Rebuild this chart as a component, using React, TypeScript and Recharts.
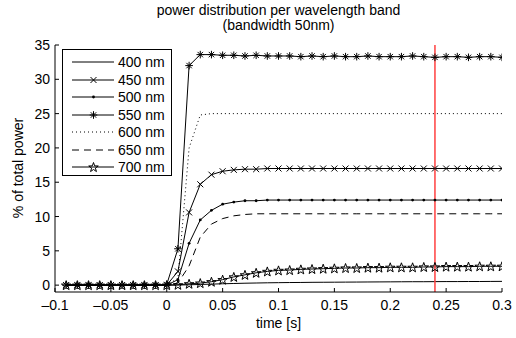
import React from 'react';
import { LineChart, Line, XAxis, YAxis, ReferenceLine } from 'recharts';

const FONT = '"Liberation Sans", Arial, Helvetica, sans-serif';

// sample times [s]
const times = [
  -0.09, -0.08, -0.07, -0.06, -0.05, -0.04, -0.03, -0.02, -0.01, 0,
  0.01, 0.02, 0.03, 0.04, 0.05, 0.06, 0.07, 0.08, 0.09, 0.1,
  0.11, 0.12, 0.13, 0.14, 0.15, 0.16, 0.17, 0.18, 0.19, 0.2,
  0.21, 0.22, 0.23, 0.24, 0.25, 0.26, 0.27, 0.28, 0.29, 0.3,
];

const names = ['400 nm', '450 nm', '500 nm', '550 nm', '600 nm', '650 nm', '700 nm'];

// % of total power per band
const s400 = [
  0, 0, 0, 0, 0, 0, 0, 0, 0, 0,
  0.02, 0.05, 0.1, 0.15, 0.2, 0.24, 0.28, 0.31, 0.34, 0.36,
  0.38, 0.39, 0.41, 0.42, 0.43, 0.44, 0.45, 0.46, 0.47, 0.48,
  0.49, 0.5, 0.5, 0.51, 0.52, 0.52, 0.53, 0.53, 0.54, 0.55,
];
const s450 = [
  0, 0, 0, 0, 0, 0, 0, 0, 0, 0,
  2.0, 10.6, 14.7, 16.1, 16.6, 16.8, 16.9, 16.9, 17.0, 17.0,
  17.0, 17.0, 17.0, 17.0, 17.0, 17.0, 17.0, 17.0, 17.0, 17.0,
  17.0, 17.0, 17.0, 17.0, 17.0, 17.0, 17.0, 17.0, 17.0, 17.0,
];
const s500 = [
  0, 0, 0, 0, 0, 0, 0, 0, 0, 0,
  0.8, 6.1, 9.5, 10.9, 11.8, 12.1, 12.3, 12.3, 12.4, 12.4,
  12.4, 12.4, 12.4, 12.4, 12.4, 12.4, 12.4, 12.4, 12.4, 12.4,
  12.4, 12.4, 12.4, 12.4, 12.4, 12.4, 12.4, 12.4, 12.4, 12.4,
];
const s550 = [
  0, 0, 0, 0, 0, 0, 0, 0, 0, 0.1,
  5.3, 32.0, 33.6, 33.6, 33.5, 33.5, 33.4, 33.5, 33.4, 33.4,
  33.4, 33.3, 33.4, 33.3, 33.4, 33.3, 33.3, 33.4, 33.3, 33.3,
  33.3, 33.4, 33.3, 33.2, 33.3, 33.3, 33.2, 33.3, 33.3, 33.2,
];
const s600 = [
  0, 0, 0, 0, 0, 0, 0, 0, 0, 0,
  1.0, 20.0, 24.8, 25.0, 25.0, 25.0, 25.0, 25.0, 25.0, 25.0,
  25.0, 25.0, 25.0, 25.0, 25.0, 25.0, 25.0, 25.0, 25.0, 25.0,
  25.0, 25.0, 25.0, 25.0, 25.0, 25.0, 25.0, 25.0, 25.0, 25.0,
];
const s650 = [
  0, 0, 0, 0, 0, 0, 0, 0, 0, 0,
  0.3, 2.8, 7.0, 8.9, 9.7, 10.1, 10.3, 10.4, 10.4, 10.4,
  10.4, 10.4, 10.4, 10.4, 10.4, 10.4, 10.4, 10.4, 10.4, 10.4,
  10.4, 10.4, 10.4, 10.4, 10.4, 10.4, 10.4, 10.4, 10.4, 10.4,
];
const s700 = [
  0, 0, 0, 0, 0, 0, 0, 0, 0, 0,
  0.05, 0.2, 0.3, 0.5, 0.8, 1.2, 1.5, 1.8, 2.0, 2.15,
  2.2, 2.3, 2.35, 2.4, 2.45, 2.5, 2.5, 2.55, 2.55, 2.6,
  2.6, 2.6, 2.65, 2.65, 2.7, 2.7, 2.7, 2.75, 2.75, 2.75,
];

const xTicks = [-0.1, -0.05, 0, 0.05, 0.1, 0.15, 0.2, 0.25, 0.3];
const yTicks = [0, 5, 10, 15, 20, 25, 30, 35];
const markerTime = 0.24;

const values = [s400, s450, s500, s550, s600, s650, s700];
const data = times.map((t, i) => {
  const row: Record<string, number> = { t };
  values.forEach((arr, k) => {
    row['s' + k] = arr[i];
  });
  return row;
});

// line style per band (marker kind, dash pattern)
const styles = [
  { marker: 'none', dash: undefined },
  { marker: 'x', dash: undefined },
  { marker: 'dot', dash: undefined },
  { marker: 'ast', dash: undefined },
  { marker: 'none', dash: '1 3' },
  { marker: 'none', dash: '7 5' },
  { marker: 'pent', dash: undefined },
];

const pentPath = (cx: number, cy: number, R: number, r: number) => {
  let d = '';
  for (let k = 0; k < 10; k++) {
    const rad = k % 2 === 0 ? R : r;
    const a = -Math.PI / 2 + (k * Math.PI) / 5;
    d += (k === 0 ? 'M' : 'L') + (cx + rad * Math.cos(a)).toFixed(2) + ',' + (cy + rad * Math.sin(a)).toFixed(2);
  }
  return d + 'Z';
};

const Marker = ({ kind, cx, cy }: { kind: string; cx: number; cy: number }) => {
  if (cx == null || cy == null) return null;
  if (kind === 'x') {
    const s = 3;
    return (
      <g stroke="#000" strokeWidth={1}>
        <line x1={cx - s} y1={cy - s} x2={cx + s} y2={cy + s} />
        <line x1={cx - s} y1={cy + s} x2={cx + s} y2={cy - s} />
      </g>
    );
  }
  if (kind === 'dot') return <circle cx={cx} cy={cy} r={1.4} fill="#000" />;
  if (kind === 'ast') {
    const s = 3.8;
    const d = 2.7;
    return (
      <g stroke="#000" strokeWidth={1}>
        <line x1={cx - s} y1={cy} x2={cx + s} y2={cy} />
        <line x1={cx} y1={cy - s} x2={cx} y2={cy + s} />
        <line x1={cx - d} y1={cy - d} x2={cx + d} y2={cy + d} />
        <line x1={cx - d} y1={cy + d} x2={cx + d} y2={cy - d} />
      </g>
    );
  }
  if (kind === 'pent') {
    return <path d={pentPath(cx, cy + 0.5, 5, 2)} fill="none" stroke="#000" strokeWidth={1} />;
  }
  return null;
};

const fmt = (v: number) => (v < 0 ? '\u2013' + Math.abs(v) : String(v));

const XTick = (props: any) => {
  const { x, y, payload } = props;
  return (
    <g>
      <line x1={x} y1={y} x2={x} y2={y - 4} stroke="#000" />
      <text x={x} y={y + 18} textAnchor="middle" fontSize={14} fontFamily={FONT} fill="#000">
        {fmt(payload.value)}
      </text>
    </g>
  );
};

const YTick = (props: any) => {
  const { x, y, payload } = props;
  return (
    <g>
      <line x1={x} y1={y} x2={x + 4} y2={y} stroke="#000" />
      <text x={x - 5} y={y + 5} textAnchor="end" fontSize={14} fontFamily={FONT} fill="#000">
        {fmt(payload.value)}
      </text>
    </g>
  );
};

const LegendBox = () => (
  <div
    style={{
      position: 'absolute',
      left: 62,
      top: 49,
      width: 110,
      height: 127,
      border: '1px solid #000',
      background: '#fff',
      boxSizing: 'border-box',
      fontFamily: FONT,
      fontSize: 14,
      color: '#000',
    }}
  >
    {names.map((n, i) => (
      <div
        key={n}
        style={{ position: 'absolute', left: 0, top: 3 + i * 17.5, height: 18, width: 110, display: 'flex', alignItems: 'center' }}
      >
        <svg width={55} height={18} style={{ flex: 'none' }}>
          <line x1={9} y1={9} x2={51} y2={9} stroke="#000" strokeWidth={1} strokeDasharray={styles[i].dash} />
          <Marker kind={styles[i].marker} cx={30.5} cy={9} />
        </svg>
        <span style={{ lineHeight: '18px' }}>{n}</span>
      </div>
    ))}
  </div>
);

export default function App() {
  return (
    <div style={{ position: 'absolute', left: 0, top: 0, width: 516, height: 338, background: '#fff', fontFamily: FONT }}>
      <div style={{ position: 'absolute', left: 0, width: 557, top: 3, textAlign: 'center', fontSize: 14, lineHeight: '15px', color: '#000' }}>
        power distribution per wavelength band
        <br />
        (bandwidth 50nm)
      </div>
      <LineChart width={516} height={338} data={data} margin={{ top: 45, right: 14, bottom: 16, left: 15 }}>
        <XAxis
          dataKey="t"
          type="number"
          domain={[-0.1, 0.3]}
          ticks={xTicks}
          tickSize={0}
          tickMargin={0}
          tickLine={false}
          axisLine={{ stroke: '#000' }}
          tick={<XTick />}
          height={30}
          interval={0}
          allowDataOverflow
        />
        <YAxis
          type="number"
          domain={[-1, 35]}
          ticks={yTicks}
          tickSize={0}
          tickMargin={0}
          tickLine={false}
          axisLine={{ stroke: '#000' }}
          tick={<YTick />}
          width={40}
          interval={0}
          allowDataOverflow
        />
        {names.map((n, k) => (
          <Line
            key={n}
            dataKey={'s' + k}
            name={n}
            type="linear"
            stroke="#000"
            strokeWidth={1}
            strokeDasharray={styles[k].dash}
            dot={
              styles[k].marker === 'none'
                ? false
                : (p: any) => <Marker key={n + p.index} kind={styles[k].marker} cx={p.cx} cy={p.cy} />
            }
            activeDot={false}
            isAnimationActive={false}
          />
        ))}
        <ReferenceLine x={markerTime} stroke="#ff4040" strokeWidth={1.5} ifOverflow="extendDomain" />
      </LineChart>
      <LegendBox />
      <div style={{ position: 'absolute', left: 55, width: 447, top: 315, textAlign: 'center', fontSize: 14, color: '#000' }}>
        time [s]
      </div>
      <div
        style={{
          position: 'absolute',
          left: 18,
          top: 168,
          fontSize: 14,
          color: '#000',
          whiteSpace: 'nowrap',
          transform: 'translate(-50%, -50%) rotate(-90deg)',
        }}
      >
        % of total power
      </div>
    </div>
  );
}
